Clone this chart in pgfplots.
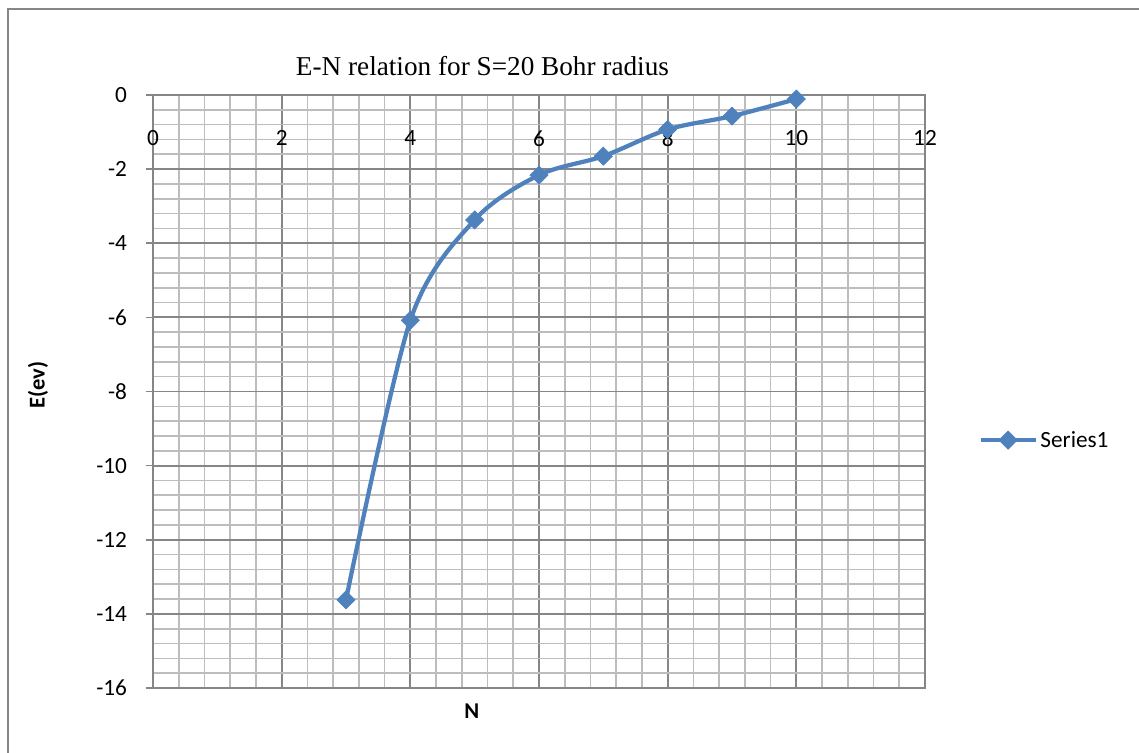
\documentclass[border=0pt]{standalone}
\usepackage{fontspec}
\setmainfont{Carlito}
\newfontfamily\titlefont{Liberation Serif}
\usepackage{pgfplots}
\pgfplotsset{compat=1.18}

\definecolor{seriesblue}{HTML}{4F81BD}
\definecolor{majorgray}{HTML}{868686}
\definecolor{minorgray}{HTML}{BDBDBD}

% energy levels
\pgfplotstableread{
N   E
3   -13.62
4   -6.08
5   -3.37
6   -2.16
7   -1.65
8   -0.93
9   -0.57
10  -0.11
}\energydata

\begin{document}
\begin{tikzpicture}
% page = 1139 x 753 px at 0.75bp per px, origin at the plot's lower left corner
\useasboundingbox (-114.75bp,-48.75bp) rectangle (739.5bp,516bp);
\draw[majorgray, line width=1.5bp] (-108.75bp,-48.75bp) -- (-108.75bp,509.25bp) -- (739.5bp,509.25bp);
\begin{axis}[
  at={(0,0)}, anchor=south west,
  scale only axis,
  width=579bp, height=444.75bp,
  xmin=0, xmax=12, ymin=-16, ymax=0,
  xtick={0,2,...,12}, ytick={-16,-14,...,0},
  minor x tick num=4, minor y tick num=4,
  grid=both,
  major grid style={majorgray, line width=1.4bp},
  minor grid style={minorgray, line width=1.2bp},
  axis line style={majorgray, line width=1.4bp},
  tick align=outside,
  ytick pos=left,
  xtick style={draw=none},
  minor tick style={draw=none},
  ytick style={majorgray, line width=1.2bp},
  major tick length=5.5bp,
  /pgf/number format/assume math mode=true,
  ticklabel style={font=\fontsize{17.5}{20}\selectfont, text=black},
  xticklabel pos=upper,
  xticklabel style={anchor=north, yshift=-28.75bp},
  yticklabel style={xshift=-10.5bp},
  title={\titlefont E-N relation for S=20 Bohr radius},
  title style={font=\fontsize{20.5}{24}\selectfont, at={(axis description cs:0.4268,1.035)}, anchor=center},
  xlabel={N},
  xlabel style={font=\fontsize{17}{20}\selectfont\bfseries, at={(axis description cs:0.413,-0.0388)}, anchor=center},
  ylabel={E(ev)},
  ylabel style={font=\fontsize{17}{20}\selectfont\bfseries, at={(axis description cs:-0.149,0.511)}, anchor=center, rotate=0},
  legend style={at={(axis description cs:1.069,0.418)}, anchor=west, draw=none, fill=none,
    font=\fontsize{17.5}{20}\selectfont, inner sep=0pt},
  legend image code/.code={
    \draw[mark repeat=2, mark phase=2] plot coordinates {(0bp,0bp) (20.6bp,0bp) (41.2bp,0bp)};
  },
]
\addplot[seriesblue, line width=3.2bp, smooth, mark=square*,
  mark size=4.8bp, mark options={rotate=45, solid, line width=0.5bp, fill=seriesblue}]
  table[x=N, y=E] {\energydata};
\addlegendentry{Series1}
\end{axis}
\end{tikzpicture}
\end{document}
